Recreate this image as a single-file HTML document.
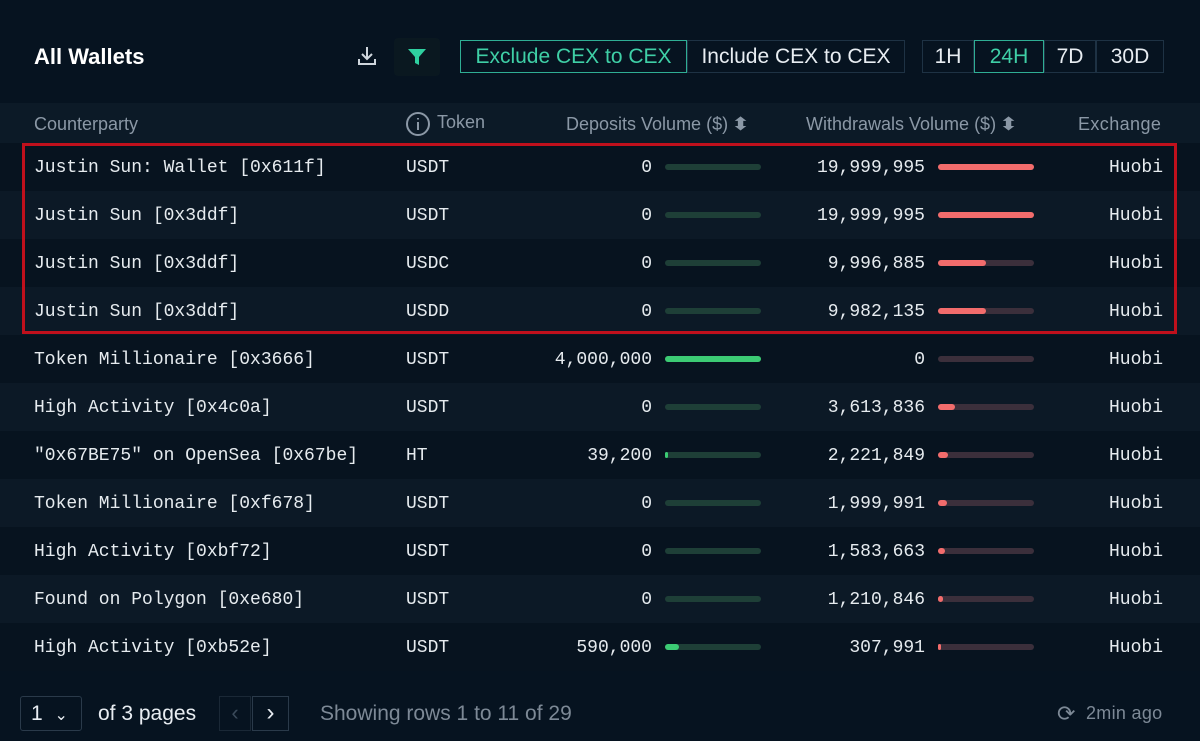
<!DOCTYPE html>
<html><head><meta charset="utf-8"><style>
*{margin:0;padding:0;box-sizing:border-box}
body{width:1200px;height:741px;background:#061320;position:relative;overflow:hidden;font-family:"Liberation Sans",sans-serif;color:#e8edf2}
.a{position:absolute;white-space:nowrap}
.m{font-family:"Liberation Mono",monospace;font-size:18px;color:#e6ebef}
.row{position:absolute;left:0;width:1200px;height:48px}
.trk{position:absolute;height:6px;border-radius:3px;width:96px}
.g{background:#1e3f37}.r{background:#3b2f3b}
.fg{position:absolute;left:0;top:0;height:6px;border-radius:3px;background:#3ccb74}
.fr{position:absolute;left:0;top:0;height:6px;border-radius:3px;background:#f26c6c}
.btn{position:absolute;height:33px;border:1px solid #1e3244;font-size:21px;line-height:31px;text-align:center;color:#e8edf2}
.hd{font-size:18px;color:#8b98a6;top:114px}
.ar{font-size:18px;display:inline-block;transform:scaleX(1.3)}
</style></head><body>
<div class="a" style="left:34px;top:44px;font-size:22px;font-weight:bold;color:#fff">All Wallets</div>
<svg class="a" style="left:356px;top:45px" width="22" height="22" viewBox="0 0 22 22" fill="none" stroke="#cfd6dd" stroke-width="2"><path d="M11 2v11M6 9l5 5 5-5M3 14v5h16v-5"/></svg>
<div class="a" style="left:394px;top:38px;width:46px;height:38px;background:#0a1820;border-radius:4px"></div>
<svg class="a" style="left:406px;top:46px" width="22" height="22" viewBox="0 0 22 22"><path d="M2 3h18l-7 8v8l-4-2v-6z" fill="#2fd0a0"/></svg>
<div class="btn" style="left:460px;top:40px;width:227px;border:1px solid #2fae94;color:#3fcfa6">Exclude CEX to CEX</div>
<div class="btn" style="left:687px;top:40px;width:218px">Include CEX to CEX</div>
<div class="btn" style="left:922px;top:40px;width:52px">1H</div>
<div class="btn" style="left:974px;top:40px;width:70px;border:1px solid #2fae94;color:#3fcfa6">24H</div>
<div class="btn" style="left:1044px;top:40px;width:52px">7D</div>
<div class="btn" style="left:1096px;top:40px;width:68px">30D</div>
<div class="a" style="left:0;top:103px;width:1200px;height:40px;background:#0c1a27"></div>
<div class="a hd" style="left:34px">Counterparty</div>
<svg class="a" style="left:405px;top:111px" width="26" height="26" viewBox="0 0 26 26" fill="none" stroke="#8b98a6" stroke-width="2"><circle cx="13" cy="13" r="11"/><path d="M13 11v8M13 7v1.5"/></svg>
<div class="a hd" style="left:437px;top:112px">Token</div>
<div class="a hd" style="left:566px">Deposits Volume ($) <span class="ar">⬍</span></div>
<div class="a hd" style="left:806px">Withdrawals Volume ($) <span class="ar">⬍</span></div>
<div class="a hd" style="left:1078px;letter-spacing:0.4px">Exchange</div>
<div id="rows"></div>
<div class="a" style="left:22px;top:143px;width:1155px;height:191px;border:3px solid #c0101c"></div>
<div class="a" style="left:20px;top:696px;width:62px;height:35px;border:1px solid #2a3a4a;border-radius:3px;font-size:21px;line-height:33px;padding-left:10px">1 <span style="font-size:16px;margin-left:6px">⌄</span></div>
<div class="a" style="left:98px;top:702px;font-size:21px">of 3 pages</div>
<div class="a" style="left:219px;top:696px;width:32px;height:35px;border:1px solid #1a2836;color:#3a4a5a;font-size:22px;line-height:32px;text-align:center">‹</div>
<div class="a" style="left:252px;top:696px;width:37px;height:35px;border:1px solid #2a3a4a;font-size:24px;line-height:32px;text-align:center">›</div>
<div class="a" style="left:320px;top:702px;font-size:21px;color:#7d8996">Showing rows 1 to 11 of 29</div>
<div class="a" style="left:1057px;top:701px;font-size:22px;color:#7d8996">⟳</div>
<div class="a" style="left:1086px;top:703px;font-size:18px;color:#7d8996;letter-spacing:0.3px">2min ago</div>
<script>
var d=[["Justin Sun: Wallet [0x611f]","USDT","0",0,"19,999,995",96],
["Justin Sun [0x3ddf]","USDT","0",0,"19,999,995",96],
["Justin Sun [0x3ddf]","USDC","0",0,"9,996,885",48],
["Justin Sun [0x3ddf]","USDD","0",0,"9,982,135",48],
["Token Millionaire [0x3666]","USDT","4,000,000",96,"0",0],
["High Activity [0x4c0a]","USDT","0",0,"3,613,836",17],
["\"0x67BE75\" on OpenSea [0x67be]","HT","39,200",1,"2,221,849",10],
["Token Millionaire [0xf678]","USDT","0",0,"1,999,991",9],
["High Activity [0xbf72]","USDT","0",0,"1,583,663",7],
["Found on Polygon [0xe680]","USDT","0",0,"1,210,846",5],
["High Activity [0xb52e]","USDT","590,000",14,"307,991",2]];
var h="";
d.forEach(function(r,i){var y=143+i*48;
h+='<div class="row" style="top:'+y+'px;background:'+(i%2?'#0c1926':'#07131f')+'">'+
'<div class="a m" style="left:34px;top:15px">'+r[0].replace(/"/g,'&quot;')+'</div>'+
'<div class="a m" style="left:406px;top:15px">'+r[1]+'</div>'+
'<div class="a m" style="right:548px;top:15px">'+r[2]+'</div>'+
'<div class="trk g" style="left:665px;top:21px">'+(r[3]?'<div class="fg" style="width:'+Math.max(r[3],3)+'px"></div>':'')+'</div>'+
'<div class="a m" style="right:275px;top:15px">'+r[4]+'</div>'+
'<div class="trk r" style="left:938px;top:21px">'+(r[5]?'<div class="fr" style="width:'+Math.max(r[5],3)+'px"></div>':'')+'</div>'+
'<div class="a m" style="right:37px;top:15px">Huobi</div></div>';});
document.getElementById("rows").innerHTML=h;
</script>
</body></html>
